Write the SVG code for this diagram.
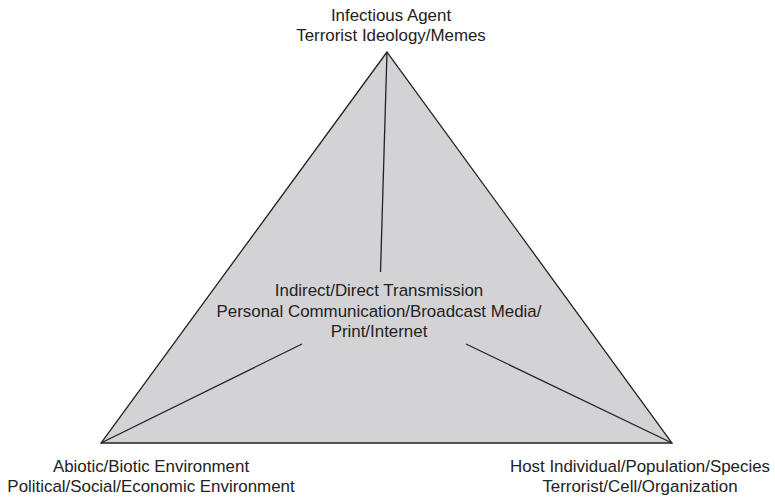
<svg xmlns="http://www.w3.org/2000/svg" width="775" height="498" viewBox="0 0 775 498">
<style>
text{font-family:"Liberation Sans",Arial,sans-serif;font-size:16.9px;fill:#222;text-anchor:middle}
.edge{stroke:#222;stroke-width:1.3;fill:none}
</style>
<rect width="775" height="498" fill="#fff"/>
<g id="triangle">
<polygon points="387,52 101,443 672,443" fill="#d3d3d5" stroke="#222" stroke-width="1.3" stroke-linejoin="miter"/>
</g>
<g id="connectors">
<line class="edge" x1="387" y1="52" x2="380.5" y2="272"/>
<line class="edge" x1="101" y1="443" x2="302" y2="344"/>
<line class="edge" x1="672" y1="443" x2="466" y2="344"/>
</g>
<g id="agent">
<text x="391" y="21">Infectious Agent</text>
<text x="391" y="40.5">Terrorist Ideology/Memes</text>
</g>
<g id="transmission">
<text x="379" y="296">Indirect/Direct Transmission</text>
<text x="379" y="316.5">Personal Communication/Broadcast Media/</text>
<text x="379" y="337">Print/Internet</text>
</g>
<g id="environment">
<text x="151" y="472">Abiotic/Biotic Environment</text>
<text x="151" y="492">Political/Social/Economic Environment</text>
</g>
<g id="host">
<text x="640" y="472">Host Individual/Population/Species</text>
<text x="640" y="492">Terrorist/Cell/Organization</text>
</g>
</svg>
